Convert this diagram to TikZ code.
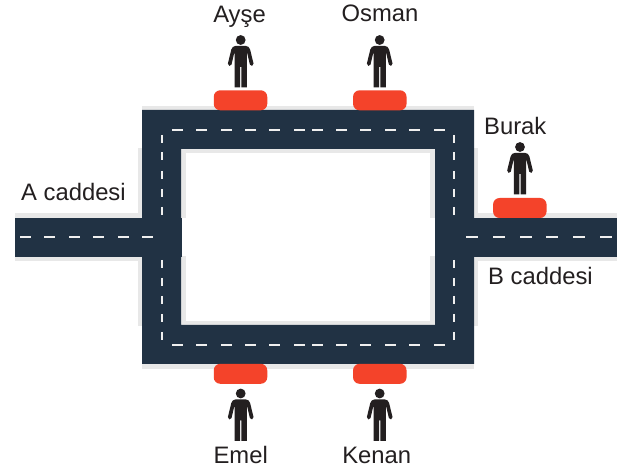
\documentclass[tikz,border=0pt]{standalone}
\usepackage{fontspec}
\setmainfont{Liberation Sans}
\definecolor{asphalt}{HTML}{213244}
\definecolor{kerb}{HTML}{E8E8E8}
\definecolor{marking}{HTML}{EFEFEF}
\definecolor{stopred}{HTML}{F4432A}
\definecolor{ink}{HTML}{231F20}
\tikzset{
  x=1pt, y=-1pt,
  kerbfill/.style={fill=kerb, draw=none},
  roadfill/.style={fill=asphalt, draw=none},
  lane/.style={draw=marking, line width=2pt},
  stoppill/.style={fill=stopred, draw=none, rounded corners=6.5pt, minimum width=53.5pt, minimum height=20pt, inner sep=0pt, outer sep=0pt},
  caption/.style={text=ink, inner sep=0pt, font=\fontsize{23.8}{26}\selectfont},
  walker/.pic={
    \fill[ink] (0,0) circle (4.9);
    \fill[ink] (0,5.8) -- (-4.8,5.8) .. controls (-7.4,6.1) and (-8.8,7.3) .. (-9.4,9.5)
      -- (-12.8,23.5) .. controls (-13.2,26) and (-9.8,27) .. (-9.2,24.6)
      -- (-6.6,13.5) -- (-6.1,13.5) -- (-6.1,47.3) -- (-0.7,47.3) -- (-0.7,27)
      -- (0.7,27) -- (0.7,47.3) -- (6.1,47.3) -- (6.1,13.5) -- (6.6,13.5)
      -- (9.2,24.6) .. controls (9.8,27) and (13.2,26) .. (12.8,23.5)
      -- (9.4,9.5) .. controls (8.8,7.3) and (7.4,6.1) .. (4.8,5.8) -- cycle;
  }
}
\begin{document}
\begin{tikzpicture}
\useasboundingbox[fill=white] (0,0) rectangle (622,473);

% kerbs along the block and the two side streets
\foreach \xa/\ya/\xb/\yb in {
  142/106/474/110, 142/364/474/369,
  181/149/435/153.5, 181/321/435/325,
  138/148/142/218, 15/213/142/218,
  15/257/142/261.5, 138/256/142/326,
  181/148/186/218, 181/256/186/326,
  430/148/435/218, 430/256/435/326,
  474/148/478/218, 474/213/617/218,
  474/257/617/261.5, 474/256/478/326}
  \fill[kerbfill] (\xa,\ya) rectangle (\xb,\yb);

% carriageway: ring road with the two side streets
\fill[roadfill, even odd rule] (142,110) rectangle (474,364) (181,149) rectangle (435,325);
\fill[roadfill] (15,218) rectangle (182,257);
\fill[roadfill] (435,218) rectangle (617,257);

% centre-line markings
\foreach \xs in {172,196,221,245,269,294,312,336,360,385,409,434} {
  \draw[lane] (\xs,130) -- ++(11,0);
  \draw[lane] (\xs,345) -- ++(11,0);
}
\foreach \ys in {135,152.5,171,189,207,260,278,296,314,332} {
  \draw[lane] (162,\ys) -- ++(0,8);
  \draw[lane] (454,\ys) -- ++(0,8);
}
\foreach \xs in {20,44,69,93,118,142} \draw[lane] (\xs,237) -- ++(11,0);
\foreach \xs in {466,493,520,546,573,600} \draw[lane] (\xs,237) -- ++(12,0);

% stops
\node[stoppill] (stopA) at (240.5,100.3) {};
\node[stoppill] (stopO) at (379.8,100.3) {};
\node[stoppill] (stopB) at (519.8,208) {};
\node[stoppill] (stopE) at (240.5,373.8) {};
\node[stoppill] (stopK) at (379.8,373.8) {};

% people waiting
\pic at (240.7,40) {walker};
\pic at (379.7,40) {walker};
\pic at (520,147) {walker};
\pic at (240.7,393.5) {walker};
\pic at (379.7,393.5) {walker};

% names and street labels
\node[caption, anchor=base] (nameA) at (239.5,22.5) {Ayşe};
\node[caption, anchor=base] (nameO) at (380,22) {Osman};
\node[caption, anchor=base west] (nameB) at (484,134.7) {Burak};
\node[caption, anchor=base] (nameE) at (240.7,463.7) {Emel};
\node[caption, anchor=base] (nameK) at (376.7,464) {Kenan};
\node[caption, anchor=base west] (streetA) at (21,200.7) {A caddesi};
\node[caption, anchor=base west] (streetB) at (488,285) {B caddesi};
\end{tikzpicture}
\end{document}
